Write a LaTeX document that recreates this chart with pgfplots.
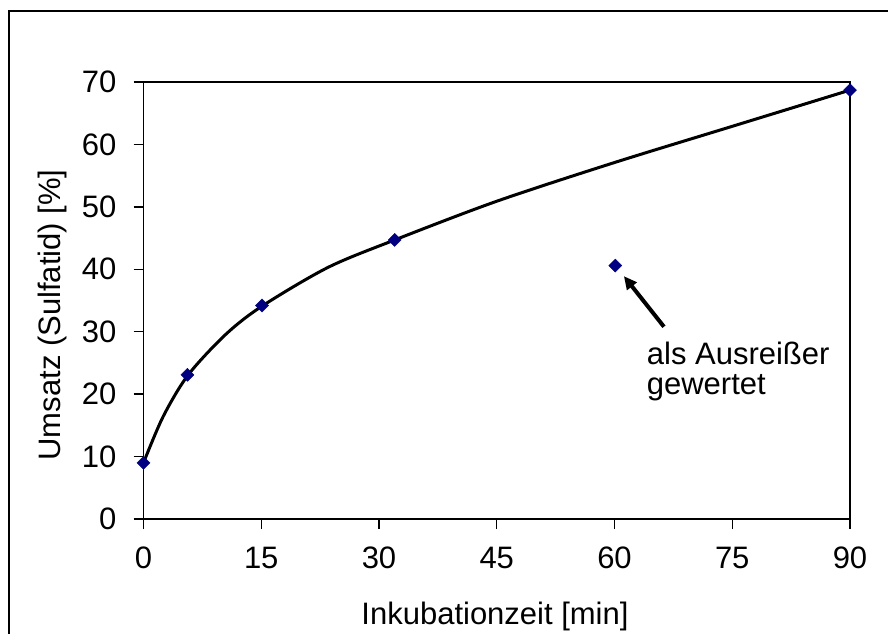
\documentclass[border=0pt]{standalone}
\usepackage{pgfplots}
\pgfplotsset{compat=1.18}
\usepackage{fontspec}
\setmainfont{Liberation Sans}
\usetikzlibrary{arrows.meta}
\definecolor{navyblue}{RGB}{0,0,128}
\begin{document}
\begin{tikzpicture}[x=1pt,y=1pt]
\useasboundingbox (0,0) rectangle (888,633);
\draw[line width=2pt] (9,-20) rectangle (920,622);
\begin{axis}[
  at={(143.5pt,114pt)}, anchor=south west,
  scale only axis, width=706.5pt, height=437pt,
  xmin=0, xmax=90, ymin=0, ymax=70,
  xtick={0,15,...,90}, ytick={0,10,...,70},
  tick align=outside, major tick length=10pt,
  axis line style={line width=1.3pt},
  every tick/.style={black, line width=1.3pt},
  tick pos=left,
  ticklabel style={font=\fontsize{31}{31}\selectfont, inner sep=0pt},
  /pgf/number format/assume math mode=true,
  xticklabel style={anchor=north, yshift=-18pt},
  yticklabel style={anchor=east, xshift=-17pt},
  xlabel={Inkubationzeit [min]},
  ylabel={Umsatz (Sulfatid) [\%]},
  label style={font=\fontsize{31}{31}\selectfont, inner sep=0pt},
  xlabel style={at={(axis description cs:0.4975,-0.2403)}, anchor=base},
  ylabel style={at={(axis description cs:-0.1295,0.467)}, anchor=center},
  clip=false,
]
% smoothed curve (Excel smooth line through points except outlier)
\addplot[black, line width=3pt, smooth, tension=0.5] coordinates {
 (0,9) (2.5,16.4) (5.7,23.1) (10.5,29.6) (15.1,34.1) (23.5,40.3) (32,44.7)
 (45,50.9) (60,57.1) (75,62.9) (90,68.7)
};
% measured points
\addplot[only marks, mark=square*, mark size=4.6pt, mark options={rotate=45, fill=navyblue, draw=navyblue}] coordinates {
 (0,9) (5.6,23.1) (15.1,34.2) (32,44.7) (60.1,40.6) (90,68.7)
};
\draw[-{Triangle[length=13pt,width=12pt]}, line width=4pt] (axis cs:66.3,30.8) -- (axis cs:61.2,38.9);
\node[anchor=base west, inner sep=0pt, font=\fontsize{31}{31}\selectfont] at (axis cs:64.1,24.8) {als Ausreißer};
\node[anchor=base west, inner sep=0pt, font=\fontsize{31}{31}\selectfont] at (axis cs:64.1,20.0) {gewertet};
\end{axis}
\end{tikzpicture}
\end{document}
